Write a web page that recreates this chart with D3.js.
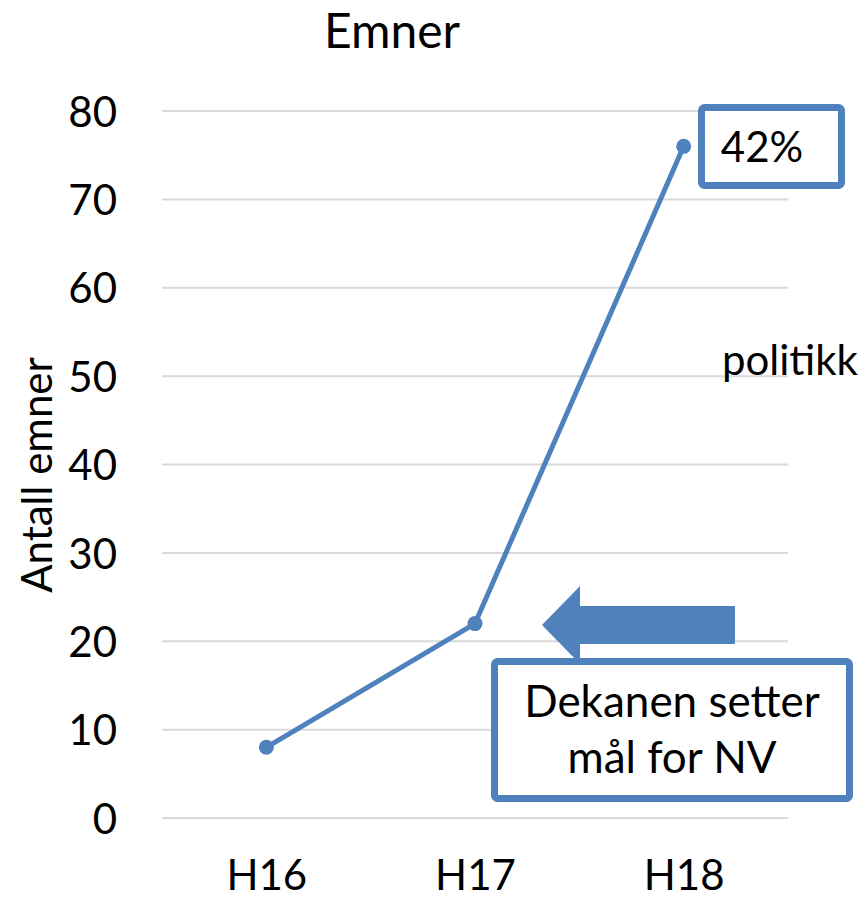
<!DOCTYPE html>
<html>
<head>
<meta charset="utf-8">
<script src="https://cdn.jsdelivr.net/npm/d3@7/dist/d3.min.js"></script>
<style>
  html, body { margin: 0; padding: 0; background: #fff; }
  svg text { font-family: Lato, "Open Sans", sans-serif; fill: #000; }
</style>
</head>
<body>
<svg id="chart" width="865" height="900"></svg>
<script>
const categories = ["H16", "H17", "H18"];
const values = [8, 22, 76];
const yTicks = [0, 10, 20, 30, 40, 50, 60, 70, 80];
const title = "Emner";
const yLabel = "Antall emner";
const percentLabel = "42%";
const sideText = "politikk";
const noteLines = ["Dekanen setter", "mål for NV"];

const blue = "#4F81BD";
const svg = d3.select("#chart");

const x = d3.scalePoint().domain(categories).range([162, 788]).padding(0.5);
const y = d3.scaleLinear().domain([0, 80]).range([818, 111]);

// gridlines
svg.append("g").selectAll("line").data(yTicks).join("line")
  .attr("x1", 162).attr("x2", 788)
  .attr("y1", d => y(d)).attr("y2", d => y(d))
  .attr("stroke", "#d9d9d9").attr("stroke-width", 2);

// y axis labels
const yAxis = d3.axisLeft(y).tickValues(yTicks).tickSize(0).tickPadding(0);
const gy = svg.append("g").attr("transform", "translate(117,0)").call(yAxis);
gy.select(".domain").remove();
gy.selectAll("text").attr("font-size", 42).attr("font-family", "Lato").attr("fill", "#000").attr("dy", "0.36em");

// x axis labels
const xAxis = d3.axisBottom(x).tickSize(0).tickPadding(0);
const gx = svg.append("g").attr("transform", "translate(0,859)").call(xAxis);
gx.select(".domain").remove();
gx.selectAll("text").attr("font-size", 42).attr("font-family", "Lato").attr("fill", "#000").attr("dy", "0.74em");

// title
svg.append("text").attr("x", 392).attr("y", 48).attr("text-anchor", "middle")
  .attr("font-size", 48).text(title);

// y label
svg.append("text").attr("transform", "translate(52,475) rotate(-90)")
  .attr("text-anchor", "middle").attr("font-size", 42).text(yLabel);

// line
const line = d3.line().x((d, i) => x(categories[i])).y(d => y(d));
svg.append("path").datum(values).attr("d", line)
  .attr("fill", "none").attr("stroke", blue).attr("stroke-width", 5)
  .attr("stroke-linejoin", "round");
svg.append("g").selectAll("circle").data(values).join("circle")
  .attr("cx", (d, i) => x(categories[i])).attr("cy", d => y(d))
  .attr("r", 7.5).attr("fill", blue);

// side text
svg.append("text").attr("x", 722).attr("y", 375).attr("font-size", 42).text(sideText);

// 42% box
svg.append("rect").attr("x", 701.5).attr("y", 107.5).attr("width", 140).attr("height", 78)
  .attr("rx", 3).attr("fill", "#fff").attr("stroke", blue).attr("stroke-width", 7);
svg.append("text").attr("x", 762).attr("y", 162).attr("text-anchor", "middle")
  .attr("font-size", 42).text(percentLabel);

// arrow
svg.append("path")
  .attr("d", "M542,625 L580,586 L580,606 L735,606 L735,644 L580,644 L580,664 Z")
  .attr("fill", blue);

// note box
svg.append("rect").attr("x", 494.5).attr("y", 661.5).attr("width", 355).attr("height", 137)
  .attr("rx", 3).attr("fill", "#fff").attr("stroke", blue).attr("stroke-width", 7);
svg.append("g").selectAll("text").data(noteLines).join("text")
  .attr("x", 672).attr("y", (d, i) => 717 + i * 56).attr("text-anchor", "middle")
  .attr("font-size", 44).text(d => d);
</script>
</body>
</html>
